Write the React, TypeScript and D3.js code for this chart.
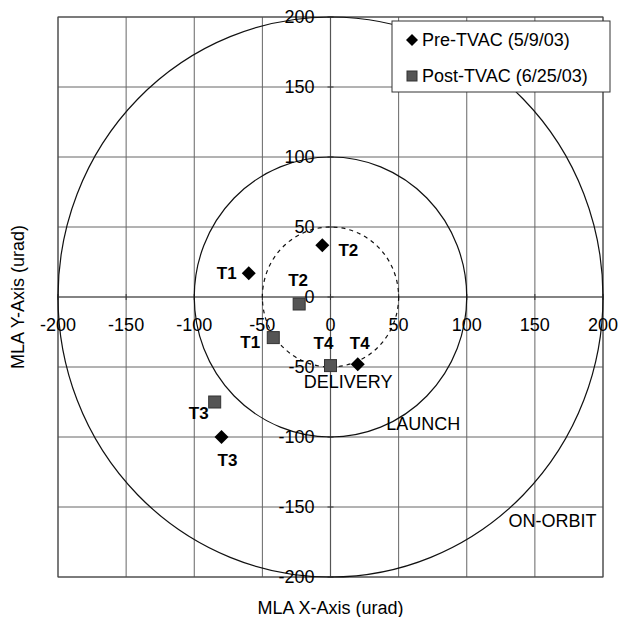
import React from "react";
import * as d3 from "d3";

// chart values
const pointNames = ["T1", "T2", "T3", "T4"];
const preX = [-60, -6, -80, 20];
const preY = [17, 37, -100, -48];
const postX = [-42, -23, -85, 0];
const postY = [-29, -5, -75, -49];
const tickValues = [-200, -150, -100, -50, 0, 50, 100, 150, 200];
const ringRadii = [200, 100, 50];
const zoneNames = ["DELIVERY", "LAUNCH", "ON-ORBIT"];
const zoneX = [13, 68, 163];
const zoneY = [-61, -91, -160];
const seriesNames = ["Pre-TVAC (5/9/03)", "Post-TVAC (6/25/03)"];

// layout
const W = 620;
const H = 617;
const plot = { left: 58, right: 603, top: 17, bottom: 577 };
const font = "'Liberation Sans', Arial, sans-serif";
// label nudges in px [dx, dy] from the marker
const preLabelOffset = [[-22, 0], [26, 5], [6, 23], [2, -21]];
const postLabelOffset = [[-23, 4], [-1, -24], [-16, 11], [-7, -23]];

function Diamond({ x, y, s }: { x: number; y: number; s: number }) {
  return (
    <path
      d={`M${x},${y - s}L${x + s},${y}L${x},${y + s}L${x - s},${y}Z`}
      fill="#000"
    />
  );
}

function Square({ x, y, s }: { x: number; y: number; s: number }) {
  return (
    <rect x={x - s} y={y - s} width={2 * s} height={2 * s} fill="#555" stroke="#333" strokeWidth={1} />
  );
}

export default function App() {
  const x = d3.scaleLinear().domain([-200, 200]).range([plot.left, plot.right]);
  const y = d3.scaleLinear().domain([-200, 200]).range([plot.bottom, plot.top]);
  const x0 = x(0);
  const y0 = y(0);

  return (
    <svg
      width={W}
      height={H}
      style={{ position: "absolute", left: 0, top: 0, background: "#fff" }}
      fontFamily={font}
    >
      {/* grid */}
      {tickValues.map((t) => (
        <g key={"g" + t}>
          <line x1={x(t)} x2={x(t)} y1={plot.top} y2={plot.bottom} stroke="#666" strokeWidth={1} />
          <line x1={plot.left} x2={plot.right} y1={y(t)} y2={y(t)} stroke="#666" strokeWidth={1} />
        </g>
      ))}
      <rect
        x={plot.left}
        y={plot.top}
        width={plot.right - plot.left}
        height={plot.bottom - plot.top}
        fill="none"
        stroke="#444"
        strokeWidth={1}
      />
      {/* axes through origin */}
      <line x1={x0} x2={x0} y1={plot.top} y2={plot.bottom} stroke="#555" strokeWidth={1.2} />
      <line x1={plot.left} x2={plot.right} y1={y0} y2={y0} stroke="#555" strokeWidth={1.2} />
      {tickValues.map((t) => (
        <g key={"t" + t}>
          <line x1={x(t)} x2={x(t)} y1={y0 - 3} y2={y0 + 3} stroke="#333" />
          <line x1={x0 - 3} x2={x0 + 3} y1={y(t)} y2={y(t)} stroke="#333" />
        </g>
      ))}

      {/* requirement rings */}
      {ringRadii.map((r, i) => (
        <ellipse
          key={"r" + r}
          cx={x0}
          cy={y0}
          rx={x(r) - x0}
          ry={y0 - y(r)}
          fill="none"
          stroke="#111"
          strokeWidth={1.2}
          strokeDasharray={i === 2 ? "4,4" : undefined}
        />
      ))}

      {/* tick labels */}
      {tickValues.map((t) => (
        <text key={"xl" + t} x={x(t)} y={y0 + 34} textAnchor="middle" fontSize={18}>
          {t}
        </text>
      ))}
      {tickValues.map((t) => (
        <text key={"yl" + t} x={x0 - 16} y={y(t) + 6} textAnchor="end" fontSize={18}>
          {t}
        </text>
      ))}

      {/* zone labels */}
      {zoneNames.map((n, i) => (
        <text key={n} x={x(zoneX[i])} y={y(zoneY[i]) + 6} textAnchor="middle" fontSize={18}>
          {n}
        </text>
      ))}

      {/* points */}
      {pointNames.map((n, i) => (
        <g key={"pre" + n}>
          <Diamond x={x(preX[i])} y={y(preY[i])} s={7} />
          <text
            x={x(preX[i]) + preLabelOffset[i][0]}
            y={y(preY[i]) + preLabelOffset[i][1] + 6}
            textAnchor="middle"
            fontSize={17}
            fontWeight="bold"
          >
            {n}
          </text>
        </g>
      ))}
      {pointNames.map((n, i) => (
        <g key={"post" + n}>
          <Square x={x(postX[i])} y={y(postY[i])} s={6} />
          <text
            x={x(postX[i]) + postLabelOffset[i][0]}
            y={y(postY[i]) + postLabelOffset[i][1] + 6}
            textAnchor="middle"
            fontSize={17}
            fontWeight="bold"
          >
            {n}
          </text>
        </g>
      ))}

      {/* legend */}
      <g>
        <rect x={392} y={21} width={218} height={71} fill="#fff" stroke="#333" strokeWidth={1} />
        <Diamond x={412} y={40} s={6} />
        <text x={422} y={46} fontSize={18}>{seriesNames[0]}</text>
        <Square x={412} y={76} s={5} />
        <text x={422} y={82} fontSize={18}>{seriesNames[1]}</text>
      </g>

      {/* axis titles */}
      <text x={x0} y={614} textAnchor="middle" fontSize={18}>
        MLA X-Axis (urad)
      </text>
      <text
        transform={`translate(24,${y0}) rotate(-90)`}
        textAnchor="middle"
        fontSize={18}
      >
        MLA Y-Axis (urad)
      </text>
    </svg>
  );
}
